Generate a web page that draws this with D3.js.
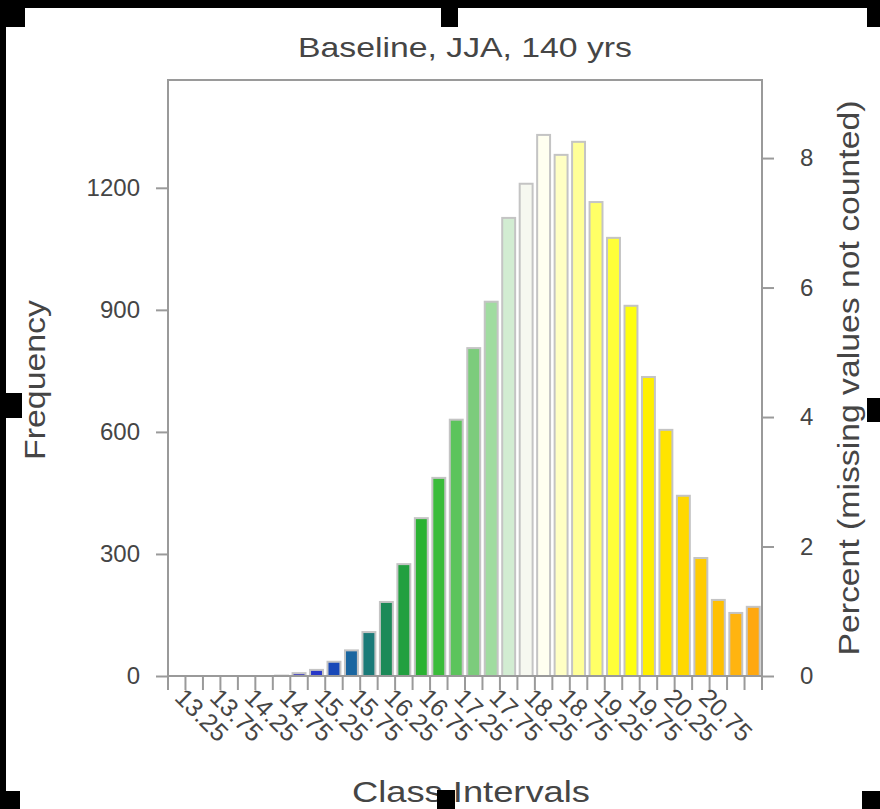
<!DOCTYPE html>
<html>
<head>
<meta charset="utf-8">
<script src="https://cdn.jsdelivr.net/npm/d3@7/dist/d3.min.js"></script>
<style>
  body { margin: 0; background: #fff; }
  svg { display: block; }
</style>
</head>
<body>
<div id="chart"></div>
<script>
  // bin boundaries (class intervals, width 0.25)
  var binEdges = [13.00, 13.25, 13.50, 13.75, 14.00, 14.25, 14.50, 14.75, 15.00, 15.25,
                  15.50, 15.75, 16.00, 16.25, 16.50, 16.75, 17.00, 17.25, 17.50, 17.75,
                  18.00, 18.25, 18.50, 18.75, 19.00, 19.25, 19.50, 19.75, 20.00, 20.25,
                  20.50, 20.75, 21.00, 21.25, 21.50];

  // counts per bin
  var frequency = [0, 0, 0, 0, 0, 0, 1, 7, 15, 35, 63, 108, 182, 275, 388, 487, 630,
                   806, 920, 1126, 1210, 1330, 1281, 1313, 1165, 1077, 910, 735, 605,
                   443, 290, 187, 155, 170];

  var barColors = ['#3a3aa8', '#3a3aa8', '#3a3aa8', '#3a3aa8', '#3a3aa8', '#3a3aa8', '#3a3aa8',
                   '#4040c0', '#2838c8', '#1848b8', '#1a66a0', '#1a7a78', '#1c8a58', '#22a040',
                   '#2ab232', '#3abc3a', '#5cc45c', '#7ccc7c', '#a0dca0', '#d2ecd2', '#f6f8f0',
                   '#fffff0', '#ffffc4', '#ffff98', '#ffff66', '#ffff38', '#ffff10', '#fff000',
                   '#ffe400', '#ffd800', '#ffcc00', '#ffc000', '#ffb410', '#ffa810'];

  var freqTicks = [0, 300, 600, 900, 1200];
  var percentTicks = [0, 2, 4, 6, 8];
  var classLabels = ['13.25', '13.75', '14.25', '14.75', '15.25', '15.75', '16.25', '16.75',
                     '17.25', '17.75', '18.25', '18.75', '19.25', '19.75', '20.25', '20.75'];

(function () {
  'use strict';

  var W = 880, H = 809;
  var plotL = 168, plotR = 762, plotT = 80, plotB = 676;
  var yMax = 1465;
  var ink = '#454545', axisGray = '#9a9a9a';
  var font = "'Liberation Sans', Arial, sans-serif";

  var svg = d3.select('#chart').append('svg').attr('width', W).attr('height', H);
  svg.append('rect').attr('width', W).attr('height', H).attr('fill', '#fff');

  var x = d3.scaleLinear().domain([binEdges[0], binEdges[binEdges.length - 1]]).range([plotL, plotR]);
  var y = d3.scaleLinear().domain([0, yMax]).range([plotB, plotT]);
  var total = d3.sum(frequency);
  var yPct = d3.scaleLinear().domain([0, yMax / total * 100]).range([plotB, plotT]);

  var bins = frequency.map(function (f, i) {
    return { lo: binEdges[i], hi: binEdges[i + 1], f: f, c: barColors[i] };
  });

  // bars
  var binW = x(binEdges[1]) - x(binEdges[0]);
  var barW = binW * 0.74;
  svg.append('g').selectAll('rect').data(bins.filter(function (d) { return d.f > 0; }))
    .enter().append('rect')
    .attr('x', function (d) { return (x(d.lo) + x(d.hi)) / 2 - barW / 2; })
    .attr('y', function (d) { return y(d.f); })
    .attr('width', barW)
    .attr('height', function (d) { return plotB - y(d.f); })
    .attr('fill', function (d) { return d.c; })
    .attr('stroke', '#c4c4c4')
    .attr('stroke-width', 2);

  // plot frame
  svg.append('rect').attr('x', plotL).attr('y', plotT)
    .attr('width', plotR - plotL).attr('height', plotB - plotT)
    .attr('fill', 'none').attr('stroke', axisGray).attr('stroke-width', 2);

  // left axis
  var yAxis = d3.axisLeft(y).tickValues(freqTicks).tickFormat(d3.format('d'))
    .tickSize(12).tickPadding(16);
  var gl = svg.append('g').attr('transform', 'translate(' + plotL + ',0)').call(yAxis);
  gl.select('.domain').remove();
  gl.selectAll('line').attr('stroke', axisGray).attr('stroke-width', 2);
  gl.selectAll('text').attr('fill', ink).style('font-family', font).style('font-size', '24px');

  // right axis (percent)
  var pAxis = d3.axisRight(yPct).tickValues(percentTicks).tickFormat(d3.format('d'))
    .tickSize(12).tickPadding(26);
  var gr = svg.append('g').attr('transform', 'translate(' + plotR + ',0)').call(pAxis);
  gr.select('.domain').remove();
  gr.selectAll('line').attr('stroke', axisGray).attr('stroke-width', 2);
  gr.selectAll('text').attr('fill', ink).style('font-family', font).style('font-size', '24px');

  // bottom axis: a tick on every boundary, labels on every other one
  var gb = svg.append('g');
  gb.selectAll('line').data(binEdges).enter().append('line')
    .attr('x1', function (d) { return x(d); }).attr('x2', function (d) { return x(d); })
    .attr('y1', plotB).attr('y2', plotB + 14)
    .attr('stroke', axisGray).attr('stroke-width', 2);
  gb.selectAll('text').data(classLabels).enter().append('text')
    .attr('transform', function (d) { return 'translate(' + (x(+d) - 12) + ',' + (plotB + 23) + ') rotate(45)'; })
    .attr('fill', ink).style('font-family', font).style('font-size', '25px')
    .text(function (d) { return d; });

  // titles
  svg.append('text').attr('x', 465).attr('y', 57).attr('text-anchor', 'middle')
    .attr('textLength', 334).attr('lengthAdjust', 'spacingAndGlyphs')
    .attr('fill', ink).style('font-family', font).style('font-size', '28px')
    .text('Baseline, JJA, 140 yrs');

  svg.append('text').attr('x', 471).attr('y', 802).attr('text-anchor', 'middle')
    .attr('textLength', 238).attr('lengthAdjust', 'spacingAndGlyphs')
    .attr('fill', ink).style('font-family', font).style('font-size', '30px')
    .text('Class Intervals');

  svg.append('text').attr('transform', 'translate(45,380) rotate(-90)').attr('text-anchor', 'middle')
    .attr('textLength', 160).attr('lengthAdjust', 'spacingAndGlyphs')
    .attr('fill', ink).style('font-family', font).style('font-size', '30px')
    .text('Frequency');

  svg.append('text').attr('transform', 'translate(859,378) rotate(-90)').attr('text-anchor', 'middle')
    .attr('textLength', 555).attr('lengthAdjust', 'spacingAndGlyphs')
    .attr('fill', ink).style('font-family', font).style('font-size', '29px')
    .text('Percent (missing values not counted)');

  // black selection frame and handles
  var frame = svg.append('g').attr('fill', '#000');
  frame.append('rect').attr('x', 0).attr('y', 0).attr('width', W).attr('height', 8);
  frame.append('rect').attr('x', 0).attr('y', 0).attr('width', 6).attr('height', H);
  [[0, 0, 25, 27], [441, 0, 17, 27], [867, 0, 13, 27],
   [0, 393, 22, 25], [867, 398, 13, 24],
   [0, 791, 20, 18], [437, 790, 18, 19], [862, 791, 18, 18]].forEach(function (h) {
    frame.append('rect').attr('x', h[0]).attr('y', h[1]).attr('width', h[2]).attr('height', h[3]);
  });
})();
</script>
</body>
</html>
